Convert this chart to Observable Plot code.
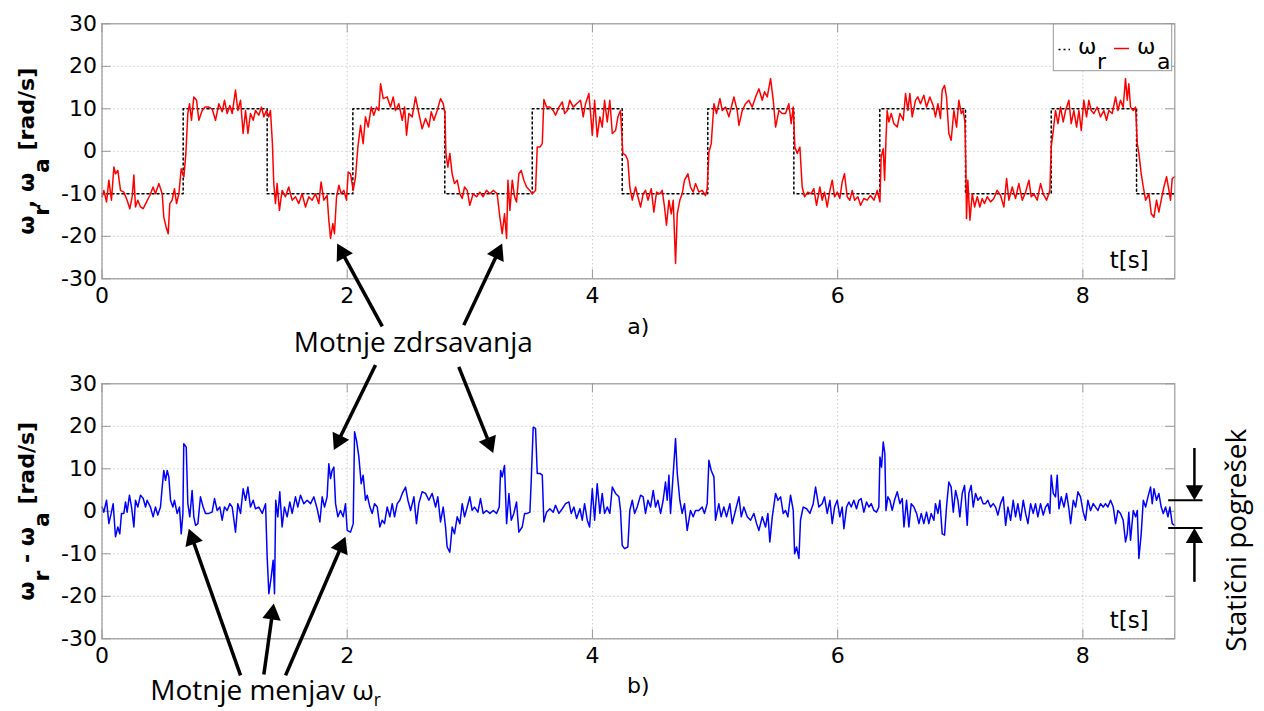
<!DOCTYPE html>
<html><head><meta charset="utf-8">
<script src="https://cdn.jsdelivr.net/npm/d3@7"></script>
<script src="https://cdn.jsdelivr.net/npm/@observablehq/plot@0.6"></script>
<style>
html,body{margin:0;padding:0;background:#fff;overflow:hidden;}
#chart{width:1264px;}
#chart svg{display:block;overflow:visible;}
</style></head><body><div id="chart"></div>
<script>
// ---------------- data ----------------
const xTicks = [0, 2, 4, 6, 8];
const yTicks = [-30, -20, -10, 0, 10, 20, 30];

// reference speed omega_r (step changes)
const stepT = [0, 0.662, 1.347, 2.046, 2.796, 3.509, 4.243, 4.941, 5.643, 6.344, 7.043, 7.742, 8.438, 8.75];
const omegaR = [-10, 10, -10, 10, -10, 10, -10, 10, -10, 10, -10, 10, -10, -10];

// actual speed omega_a  [t, value]
const omegaA1 = [[0.001,-10.7],[0.015,-9.2],[0.037,-11.9],[0.056,-6.8],[0.077,-11.5],[0.097,-3.7],[0.110,-5.3],[0.129,-4.5],[0.151,-9.2],[0.178,-9.6],[0.205,-11.5],[0.227,-13.5],[0.246,-10.7],[0.260,-5.6],[0.273,-13.1],[0.292,-11.5],[0.314,-13.1],[0.336,-13.5],[0.363,-11.9],[0.390,-10.4],[0.417,-8.4],[0.436,-10],[0.464,-7.6],[0.491,-10],[0.504,-15.5],[0.523,-17.8],[0.540,-19.4],[0.553,-12.3],[0.572,-11.5],[0.591,-8.8],[0.608,-12.3],[0.627,-10],[0.646,-4.1],[0.668,-6],[0.684,-0.5],[0.700,8.9],[0.714,11.2],[0.730,7.3],[0.749,12.8],[0.771,12],[0.790,7.3],[0.817,9.6],[0.839,10.4],[0.871,10.4],[0.898,10],[0.926,7.3],[0.953,11.2],[0.980,9.3],[0.999,12],[1.021,8.9],[1.043,10.8],[1.062,8.9],[1.089,14.4],[1.108,9.6],[1.130,12],[1.151,4.2],[1.171,9.6],[1.190,4.2],[1.211,8.9],[1.233,7.3],[1.252,9.6],[1.279,8.5],[1.301,10.4],[1.320,8.1],[1.341,9.6],[1.360,8.1],[1.374,9.6],[1.390,1.8],[1.401,-7.6],[1.415,-12.3],[1.428,-7.6],[1.447,-13.9],[1.469,-9.2],[1.496,-10.7],[1.523,-8.4],[1.551,-11.5],[1.578,-10.7],[1.605,-12.3],[1.632,-10],[1.660,-13.1],[1.687,-10.7],[1.714,-11.5],[1.741,-10],[1.768,-12.3],[1.787,-7.2],[1.809,-11.5],[1.836,-10.4],[1.850,-16.2],[1.864,-20.5],[1.883,-17],[1.896,-19.4],[1.913,-10.7],[1.932,-8],[1.951,-10],[1.973,-9.2],[1.994,-11.5],[2.008,-4.9],[2.027,-5.3],[2.049,-9.2],[2.068,-6],[2.087,1],[2.109,6.1],[2.130,1.8],[2.149,8.1],[2.171,5.7],[2.196,10.4],[2.217,8.5],[2.239,10.4],[2.258,9.6],[2.272,15.9],[2.294,12.4],[2.326,12.8],[2.353,10.4],[2.375,12.8],[2.394,9.6],[2.421,11.2],[2.449,7.3],[2.468,10.4],[2.484,3.8],[2.503,8.9],[2.530,8.1],[2.557,12.8],[2.584,8.9]];
const omegaA2 = [[2.611,5.3],[2.639,7.7],[2.666,5.7],[2.685,9.3],[2.707,7.3],[2.734,9.6],[2.761,12.4],[2.783,11.2],[2.797,8.9],[2.805,-0.5],[2.821,-3.7],[2.837,-0.5],[2.856,-5.3],[2.875,-7.6],[2.897,-6.8],[2.919,-10],[2.938,-11.1],[2.957,-8.4],[2.979,-9.2],[3.000,-12.7],[3.027,-10],[3.055,-10.7],[3.082,-9.6],[3.109,-10.7],[3.136,-9.2],[3.164,-10],[3.191,-9.2],[3.223,-10],[3.245,-15.5],[3.264,-19.4],[3.283,-14.7],[3.300,-20.5],[3.311,-6.8],[3.327,-13.9],[3.346,-6.8],[3.365,-10.7],[3.381,-11.9],[3.400,-5.3],[3.419,-4.5],[3.441,-6.8],[3.463,-8.4],[3.490,-9.2],[3.509,-10],[3.536,-9.2],[3.550,1],[3.572,1],[3.591,1.8],[3.604,12.2],[3.626,10.4],[3.653,10.4],[3.680,9.6],[3.699,8.5],[3.727,10.4],[3.754,11.6],[3.773,8.9],[3.795,9.6],[3.816,12],[3.843,10.4],[3.871,11.2],[3.903,12],[3.925,8.1],[3.944,11.2],[3.971,13.6],[3.985,8.9],[3.999,3.8],[4.018,12],[4.039,3.4],[4.061,8.1],[4.080,5.7],[4.099,12],[4.121,6.9],[4.142,12],[4.162,4.2],[4.189,4.9],[4.208,8.1],[4.229,9.6],[4.248,-0.5],[4.270,-0.9],[4.289,-2.1],[4.305,-8.4],[4.325,-11.5],[4.352,-8.4],[4.371,-10.7],[4.393,-13.1],[4.414,-10],[4.433,-9.2],[4.453,-11.5],[4.480,-8.8],[4.501,-14.3],[4.523,-9.6],[4.550,-10],[4.569,-9.2],[4.588,-13.1],[4.604,-17.4],[4.624,-11.5],[4.643,-14.7],[4.659,-11.5],[4.678,-26.4],[4.692,-14.7],[4.713,-11.5],[4.732,-10],[4.751,-6.8],[4.779,-5.3],[4.800,-8.4],[4.822,-9.6],[4.841,-7.6],[4.868,-9.6],[4.895,-9.2],[4.922,-10.4],[4.936,-8.8],[4.950,-0.2],[4.969,1.8],[4.991,11.2],[5.012,8.9],[5.040,12.4],[5.059,9.6],[5.086,10.4],[5.113,8.1],[5.140,11.2],[5.154,12.8],[5.181,9.6],[5.195,6.1],[5.222,9.6],[5.249,11.2],[5.276,12],[5.303,10.4],[5.331,12.8],[5.358,14.7],[5.385,12],[5.404,14],[5.426,12.8],[5.453,17.1],[5.475,12],[5.494,5.7],[5.521,9.6],[5.548,8.9],[5.575,8.9],[5.602,11.2],[5.621,6.5],[5.638,10.4],[5.651,1],[5.671,-0.5],[5.692,1],[5.711,-8.4],[5.730,-10.7],[5.757,-9.6],[5.784,-10],[5.806,-8.8],[5.828,-12.7],[5.855,-8.4]];
const omegaA3 = [[5.874,-11.5],[5.893,-9.6],[5.915,-13.1],[5.937,-9.2],[5.956,-6.8],[5.975,-10.7],[5.997,-9.6],[6.018,-11.1],[6.037,-7.2],[6.056,-5.3],[6.078,-10.7],[6.100,-11.5],[6.119,-9.2],[6.138,-11.5],[6.165,-10.7],[6.187,-12.7],[6.214,-11.1],[6.241,-11.5],[6.268,-10.4],[6.296,-11.5],[6.323,-9.2],[6.345,-11.9],[6.355,-1.3],[6.372,0.6],[6.383,-6.8],[6.394,2.6],[6.404,9.6],[6.418,6.9],[6.437,8.9],[6.459,6.5],[6.486,5.7],[6.508,8.9],[6.535,7.3],[6.554,13.6],[6.573,9.6],[6.589,13.6],[6.608,8.1],[6.635,12],[6.654,12.8],[6.676,11.2],[6.703,13.2],[6.725,10.4],[6.752,12.8],[6.779,10.8],[6.798,8.1],[6.818,11.2],[6.839,7.7],[6.853,14.4],[6.872,15.5],[6.888,12.8],[6.907,4.2],[6.926,2.6],[6.948,9.6],[6.970,5.7],[6.989,12],[7.008,8.9],[7.024,9.6],[7.038,6.9],[7.046,-3.7],[7.051,-15.8],[7.062,-6.8],[7.079,-16.2],[7.098,-10],[7.117,-13.1],[7.139,-10.7],[7.160,-13.1],[7.179,-11.1],[7.198,-12.3],[7.220,-10.7],[7.247,-11.9],[7.274,-11.1],[7.301,-9.2],[7.329,-10.4],[7.356,-13.1],[7.378,-6.4],[7.397,-11.5],[7.424,-8.4],[7.451,-11.1],[7.478,-7.6],[7.506,-11.5],[7.533,-9.6],[7.560,-6.8],[7.579,-10.7],[7.601,-10],[7.628,-11.5],[7.655,-7.6],[7.677,-10],[7.704,-11.5],[7.731,-9.2],[7.742,1],[7.759,4.9],[7.777,9.6],[7.797,6.5],[7.818,10.4],[7.840,6.9],[7.859,9.6],[7.886,12],[7.905,6.5],[7.927,9.6],[7.949,5.7],[7.968,9.6],[7.987,4.9],[8.008,12],[8.030,8.1],[8.049,12],[8.068,9.6],[8.090,8.9],[8.117,10.4],[8.144,8.1],[8.171,9.6],[8.193,7.3],[8.212,9.6],[8.239,8.9],[8.267,12.8],[8.286,9.6],[8.307,12],[8.329,10.4],[8.348,17.1],[8.362,12],[8.375,15.9],[8.389,10.4],[8.411,9.6],[8.430,10.4],[8.444,1.8],[8.457,-0.5],[8.476,-5.3],[8.493,-8.4],[8.512,-11.5],[8.539,-10],[8.558,-14.7],[8.580,-15.5],[8.601,-11.5],[8.620,-14.3],[8.639,-11.5],[8.661,-8.4],[8.683,-6],[8.702,-9.2],[8.715,-11.5],[8.729,-6.4],[8.748,-6]];

// speed error omega_r - omega_a  [t, value]
const error1 = [[0.001,1],[0.015,-0.2],[0.037,2.6],[0.056,-2.9],[0.075,-0.5],[0.091,1.8],[0.110,-6],[0.129,-3.7],[0.145,-5.3],[0.159,-0.5],[0.178,-0.5],[0.192,2.2],[0.205,-0.2],[0.224,3.8],[0.241,1],[0.260,-3.7],[0.273,2.6],[0.292,1],[0.314,3.8],[0.336,3],[0.355,1],[0.368,2.6],[0.395,1],[0.417,-1.3],[0.436,1],[0.455,-0.9],[0.477,1],[0.491,5.7],[0.504,9.6],[0.518,7.3],[0.532,9.6],[0.545,8.1],[0.559,2.6],[0.578,1],[0.591,2.6],[0.613,-0.5],[0.632,1],[0.646,-5.3],[0.660,-0.5],[0.667,15.9],[0.687,15.1],[0.700,1.8],[0.716,-1.3],[0.735,4.9],[0.749,-1.3],[0.763,-3.3],[0.782,-2.9],[0.803,3.4],[0.825,1],[0.844,-0.5],[0.871,-0.5],[0.898,-0.2],[0.918,3],[0.939,0.2],[0.961,1],[0.980,-2.1],[0.999,1],[1.021,0.2],[1.043,1.8],[1.062,1],[1.089,-4.9],[1.108,1.8],[1.130,-0.5],[1.151,5.3],[1.171,2.6],[1.190,5.7],[1.211,1],[1.233,2.6],[1.252,0.6],[1.279,1],[1.307,-0.5],[1.334,1.8],[1.347,-10.7],[1.361,-19.4],[1.380,-15.5],[1.396,-11.5],[1.407,-19.4],[1.417,2.6],[1.434,-1.3],[1.450,4.6],[1.469,-3.7],[1.488,1],[1.510,-1.3],[1.532,2.2],[1.551,-0.5],[1.578,3.4],[1.597,1],[1.619,3.8],[1.646,1.8],[1.673,2.6],[1.701,1.8],[1.728,3.4],[1.755,0.6],[1.777,-2.5],[1.796,3.4],[1.815,1],[1.836,3.4],[1.850,11.2],[1.864,7.7],[1.877,9.6],[1.891,10.4],[1.905,1.8],[1.924,-1.3],[1.945,0.2],[1.967,-1.3],[1.986,1.8],[2.000,-4.5],[2.027,-4.9],[2.049,-2.9],[2.060,18.7],[2.076,16.7],[2.095,12.8],[2.114,6.5],[2.130,8.5],[2.149,2.6],[2.163,3.8],[2.185,1],[2.204,-0.5],[2.223,1.8],[2.245,1],[2.266,-3.7],[2.285,-2.1],[2.304,-2.9],[2.326,1],[2.348,-1.3],[2.367,1.8],[2.386,-1.3],[2.408,1.8],[2.429,2.6],[2.449,4.2],[2.476,5.7],[2.495,2.6],[2.517,0.2],[2.544,3.4],[2.565,-2.9],[2.584,1.8]];
const error2 = [[2.611,4.6],[2.639,4.2],[2.666,2.6],[2.693,4.2],[2.721,1],[2.739,3.4],[2.761,-2.5],[2.783,1],[2.802,-3.7],[2.815,-8.4],[2.837,-9.6],[2.856,-3.7],[2.875,-5.3],[2.897,-1.3],[2.919,-2.9],[2.938,1.8],[2.957,-1.3],[2.979,1],[3.000,3.4],[3.019,0.2],[3.038,1],[3.066,-0.2],[3.087,3],[3.109,-0.5],[3.136,0.2],[3.164,-0.5],[3.191,0.2],[3.218,-0.5],[3.240,1],[3.251,9.6],[3.264,8.1],[3.283,10.8],[3.300,-2.9],[3.319,4.2],[3.338,-2.1],[3.359,-0.5],[3.381,2.2],[3.400,-4.9],[3.427,-3.7],[3.447,-0.5],[3.468,-0.5],[3.490,-0.2],[3.501,7.3],[3.517,19.8],[3.536,19.5],[3.550,8.9],[3.572,8.9],[3.591,8.5],[3.604,-2.5],[3.626,-0.2],[3.653,0.6],[3.680,-0.2],[3.699,1.4],[3.727,-0.5],[3.754,0.6],[3.781,1.8],[3.808,2.2],[3.827,-0.5],[3.849,1],[3.871,-1.7],[3.898,0.6],[3.917,-2.1],[3.936,1.8],[3.958,-2.1],[3.977,-3.7],[3.999,5.3],[4.018,-2.1],[4.039,6.5],[4.061,-0.5],[4.080,4.2],[4.099,-0.5],[4.121,1],[4.142,-0.5],[4.162,5.7],[4.189,4.2],[4.216,3.4],[4.229,0.2],[4.243,-8],[4.262,-8.8],[4.289,-8.4],[4.305,0.2],[4.325,2.6],[4.344,-0.5],[4.365,1],[4.393,3.8],[4.414,3.4],[4.433,-0.5],[4.453,2.6],[4.474,1],[4.496,4.9],[4.515,1],[4.534,2.6],[4.556,-0.5],[4.577,2.6],[4.596,6.9],[4.610,2.6],[4.624,8.5],[4.637,-0.5],[4.659,8.9],[4.678,17.1],[4.692,8.9],[4.713,2.6],[4.732,-0.5],[4.751,1.8],[4.773,-4.5],[4.800,0.2],[4.822,-1.3],[4.841,0.2],[4.868,0.2],[4.895,1],[4.914,-0.5],[4.936,1.8],[4.950,12],[4.969,9.6],[4.991,8.1],[5.004,-2.1],[5.031,1.8],[5.050,-1.3],[5.072,1],[5.094,-1.3],[5.121,1.8],[5.140,-2.9],[5.167,0.2],[5.195,3.4],[5.214,-1.3],[5.235,1],[5.263,-1.3],[5.290,-2.1],[5.317,-0.5],[5.339,-2.9],[5.358,-4.5],[5.385,-1.3],[5.412,-3.7],[5.431,-0.5],[5.447,-7.2],[5.467,-1.3],[5.494,4.2],[5.513,2.6],[5.535,3.4],[5.556,-0.5],[5.575,0.2],[5.594,-1.3],[5.616,3.8],[5.638,0.2],[5.649,-10],[5.665,-8.4],[5.684,-11.1],[5.697,-2.1],[5.719,1],[5.747,0.6],[5.774,-0.5],[5.801,1.8],[5.820,5.7],[5.847,1]];
const error3 = [[5.874,1.8],[5.893,3.4],[5.915,-0.5],[5.937,2.6],[5.956,-2.9],[5.975,1],[5.997,2.6],[6.018,-1.3],[6.037,1],[6.051,-4.1],[6.073,1],[6.092,2.2],[6.111,1],[6.132,2.6],[6.154,0.6],[6.173,2.6],[6.192,3],[6.214,-0.2],[6.236,2.2],[6.255,1],[6.274,1.8],[6.296,0.2],[6.317,-0.2],[6.336,1],[6.345,12.8],[6.358,10.4],[6.372,16.3],[6.385,13.6],[6.394,0.2],[6.410,3.4],[6.426,2.6],[6.445,0.2],[6.464,2.6],[6.486,4.6],[6.508,1.8],[6.527,3],[6.541,-3.7],[6.562,2.6],[6.581,-3.7],[6.600,1.8],[6.622,1],[6.644,-0.5],[6.663,-2.9],[6.682,-0.5],[6.703,-2.9],[6.725,-0.2],[6.744,-2.9],[6.763,-0.5],[6.785,-2.1],[6.798,1.8],[6.818,-0.5],[6.834,2.6],[6.853,-5.3],[6.872,-5.6],[6.888,1],[6.907,6.9],[6.926,5.7],[6.943,-0.2],[6.962,4.9],[6.981,2.6],[6.997,-1.3],[7.016,4.2],[7.035,6.1],[7.057,-3.3],[7.070,4.2],[7.089,6.1],[7.106,1],[7.125,4.2],[7.144,2.6],[7.166,3.4],[7.187,1.8],[7.206,1.8],[7.225,2.6],[7.247,1],[7.269,1.8],[7.288,1],[7.307,-0.9],[7.329,1.8],[7.351,3.4],[7.370,-3.3],[7.389,1],[7.411,-2.1],[7.432,2.6],[7.451,-1.3],[7.470,1.8],[7.492,-2.1],[7.514,2.6],[7.533,-0.5],[7.552,-2.9],[7.574,1.8],[7.595,-0.5],[7.614,1.8],[7.633,-1.3],[7.655,1.8],[7.677,-0.9],[7.696,1],[7.715,1.8],[7.731,-0.5],[7.742,8.5],[7.759,4.2],[7.777,3.4],[7.791,8.5],[7.805,0.6],[7.824,3.4],[7.846,1],[7.867,4.2],[7.886,0.6],[7.900,-2.9],[7.922,2.6],[7.941,1],[7.960,4.6],[7.981,3.4],[8.003,-0.2],[8.022,-2.1],[8.041,2.6],[8.063,0.2],[8.085,1.8],[8.104,1],[8.123,0.2],[8.144,1.8],[8.166,1],[8.185,1.8],[8.204,1],[8.226,2.6],[8.248,1],[8.267,-2.9],[8.286,0.2],[8.307,-0.5],[8.329,-2.1],[8.348,-7.2],[8.362,-5.3],[8.375,-0.2],[8.389,-6.8],[8.411,0.2],[8.430,-1.3],[8.444,0.2],[8.457,-11.1],[8.476,-5.3],[8.493,2.6],[8.512,1],[8.531,3.4],[8.552,5.7],[8.566,1.8],[8.580,5.3],[8.601,2.6],[8.620,4.2],[8.639,1],[8.656,-0.5],[8.675,1],[8.694,-1.3],[8.710,1],[8.729,-2.9],[8.748,-3.3]];

// annotations (data coordinates: t [s], value [rad/s])
const slipArrowsA = [{t1:2.286,v1:-41.2,t2:1.918,v2:-21.7},{t1:2.951,v1:-40.9,t2:3.264,v2:-21.7}];
const slipArrowsB = [{t1:2.231,v1:34.4,t2:1.891,v2:14.4},{t1:2.910,v1:34.0,t2:3.191,v2:13.7}];
const changeArrows = [{t1:1.130,v1:-38.6,t2:0.708,v2:-4.1},{t1:1.320,v1:-38.4,t2:1.401,v2:-21.7},{t1:1.497,v1:-38.6,t2:1.986,v2:-6.0}];
const staticBand = [2.6, -3.9];
const staticArrows = [{t1:8.91,v1:14.9,t2:8.91,v2:2.6},{t1:8.91,v1:-16.6,t2:8.91,v2:-3.9}];

// ---------------- layout ----------------
const W = 1264;
const FL = 101.5, FR = 1174.3, FT = 23.3, FH = 255;
const xDomain = [0, 8.75], yDomain = [-30, 30];
const kx = (FR - FL) / (xDomain[1] - xDomain[0]);
const ky = FH / (yDomain[1] - yDomain[0]);
const tPx = px => xDomain[0] + (px - FL) / kx;
const vPx = py => yDomain[1] - (py - FT) / ky;
const toPts = a => a.map(([t, v]) => ({t, v}));
const fmt = d => String(d);
const GRID = "#b3b3b3", FRAME = "#999";
const CAL = "'Open Sans', Lato, sans-serif";

function frameMarks() {
  const tl = 9, dt = tl / kx, dv = tl / ky;
  return [
    Plot.ruleY(yTicks, {stroke: GRID, strokeDasharray: "1,3", strokeWidth: 1}),
    Plot.ruleX(xTicks, {stroke: GRID, strokeDasharray: "1,3", strokeWidth: 1}),
    Plot.ruleY(yTicks, {x1: xDomain[0], x2: xDomain[0] + dt, stroke: FRAME}),
    Plot.ruleY(yTicks, {x1: xDomain[1] - dt, x2: xDomain[1], stroke: FRAME}),
    Plot.ruleX(xTicks, {y1: yDomain[0], y2: yDomain[0] + dv, stroke: FRAME}),
    Plot.ruleX(xTicks, {y1: yDomain[1] - dv, y2: yDomain[1], stroke: FRAME})
  ];
}

function arrowMarks(specs, width, head) {
  const shafts = [], heads = [];
  for (const a of specs) {
    const dxp = (a.t2 - a.t1) * kx, dyp = -(a.v2 - a.v1) * ky;
    const L = Math.hypot(dxp, dyp), ux = dxp / L, uy = dyp / L;
    const back = head * 0.75, c = head * 2 / 3;
    shafts.push({t1: a.t1, v1: a.v1, t2: a.t2 - back * ux / kx, v2: a.v2 + back * uy / ky});
    heads.push({t: a.t2 - c * ux / kx, v: a.v2 + c * uy / ky, angle: Math.atan2(ux, -uy) * 180 / Math.PI});
  }
  const yy = head / 3, size = 3 * Math.sqrt(3) * yy * yy, r = Math.sqrt(size / Math.PI);
  return [
    Plot.link(shafts, {x1: "t1", y1: "v1", x2: "t2", y2: "v2", stroke: "black", strokeWidth: width, strokeLinecap: "butt"}),
    Plot.dot(heads, {x: "t", y: "v", rotate: "angle", symbol: "triangle", r, fill: "black", stroke: "none"})
  ];
}

function axisTitle(text) {
  return Plot.text([text], {frameAnchor: "left", dx: 33 - FL, rotate: -90, textAnchor: "middle", lineAnchor: "bottom",
    fontFamily: "DejaVu Sans", fontWeight: "bold", fontSize: 22, fill: "black", text: d => d});
}

function common(height) {
  return {
    width: W, height,
    marginLeft: FL, marginRight: W - FR, marginTop: FT, marginBottom: height - FT - FH,
    style: {fontFamily: "DejaVu Sans", fontSize: "22px", color: "black", background: "transparent", overflow: "visible"},
    x: {domain: xDomain, ticks: xTicks, tickSize: 0, tickPadding: 9, tickFormat: fmt, label: null},
    y: {domain: yDomain, ticks: yTicks, tickSize: 0, tickPadding: 5, tickFormat: fmt, label: null}
  };
}

const steps = stepT.map((t, i) => ({t, v: omegaR[i]}));
const redParts = [omegaA1, omegaA2, omegaA3].flat();
const blueParts = [error1, error2, error3].flat();

const topPlot = Plot.plot({
  ...common(360),
  marks: [
    ...frameMarks(),
    Plot.line(steps, {x: "t", y: "v", curve: "step-after", stroke: "black", strokeWidth: 1.5, strokeDasharray: "2,3"}),
    Plot.line(toPts(redParts), {x: "t", y: "v", stroke: "#ff0000", strokeWidth: 1.5}),
    Plot.frame({stroke: FRAME, strokeWidth: 1.2}),
    // legend
    Plot.rect([0], {x1: tPx(1053.3), x2: tPx(1171.7), y1: vPx(24), y2: vPx(70.7), fill: "white", stroke: FRAME}),
    Plot.ruleY([vPx(49)], {x1: tPx(1058.5), x2: tPx(1070), stroke: "black", strokeWidth: 1.5, strokeDasharray: "2,3"}),
    Plot.ruleY([vPx(48)], {x1: tPx(1114), x2: tPx(1129), stroke: "#ff0000", strokeWidth: 1.5}),
    Plot.text(["ω", "ω"], {x: [tPx(1077.5), tPx(1136.5)], y: [vPx(53.5), vPx(53.5)], textAnchor: "start", lineAnchor: "bottom", fontSize: 22, fontFamily: "DejaVu Sans", fill: "black", text: d => d}),
    Plot.text(["r", "a"], {x: [tPx(1096.5), tPx(1156.5)], y: [vPx(68.3), vPx(68.3)], textAnchor: "start", lineAnchor: "bottom", fontSize: 22, fontFamily: "DejaVu Sans", fill: "black", text: d => d}),
    Plot.text(["t[s]"], {frameAnchor: "bottom-right", textAnchor: "end", lineAnchor: "bottom", dx: -26, dy: -11, fontSize: 23, fontFamily: "DejaVu Sans", fill: "black", text: d => d}),
    Plot.text(["a)"], {frameAnchor: "bottom", lineAnchor: "middle", dy: 48, fontSize: 22, fontFamily: "DejaVu Sans", fill: "black", text: d => d}),
    axisTitle("ω_r, ω_a [rad/s]"),
    ...arrowMarks(slipArrowsA, 3.5, 16),
    Plot.text(["Motnje zdrsavanja"], {x: 2.539, y: -45.2, textAnchor: "middle", lineAnchor: "middle", fontSize: 28, fontFamily: CAL, fill: "black", text: d => d})
  ]
});

const bottomPlot = Plot.plot({
  ...common(351),
  marks: [
    ...frameMarks(),
    Plot.line(toPts(blueParts), {x: "t", y: "v", stroke: "#0000ff", strokeWidth: 1.5}),
    Plot.frame({stroke: FRAME, strokeWidth: 1.2}),
    Plot.text(["t[s]"], {frameAnchor: "bottom-right", textAnchor: "end", lineAnchor: "bottom", dx: -26, dy: -11, fontSize: 23, fontFamily: "DejaVu Sans", fill: "black", text: d => d}),
    Plot.text(["b)"], {frameAnchor: "bottom", lineAnchor: "middle", dy: 47, fontSize: 22, fontFamily: "DejaVu Sans", fill: "black", text: d => d}),
    axisTitle("ω_r - ω_a [rad/s]"),
    ...arrowMarks(slipArrowsB, 3.5, 16),
    ...arrowMarks(changeArrows, 3.5, 16),
    Plot.ruleY(staticBand, {x1: 8.70, x2: 8.98, stroke: "black", strokeWidth: 2}),
    ...arrowMarks(staticArrows, 2.5, 15),
    Plot.text(["Motnje menjav ω~r"], {x: 1.334, y: -42.4, textAnchor: "middle", lineAnchor: "middle", fontSize: 28, fontFamily: CAL, fill: "black", text: d => d}),
    Plot.text(["Statični pogrešek"], {x: 9.26, y: -6.8, rotate: -90, textAnchor: "middle", lineAnchor: "middle", fontSize: 28, fontFamily: CAL, fill: "black", text: d => d})
  ]
});

const host = document.getElementById("chart");
host.append(topPlot, bottomPlot);

// subscripts: "_x" large (MATLAB style), "~x" small
function richText(svg) {
  const NS = "http://www.w3.org/2000/svg";
  svg.querySelectorAll("text").forEach(el => {
    const s = el.textContent;
    if (!/[_~]/.test(s)) return;
    const fs = parseFloat(getComputedStyle(el).fontSize) || 22;
    const parts = s.split(/([_~].)/).filter(p => p !== "");
    el.textContent = "";
    let shift = 0;
    for (const p of parts) {
      const ts = document.createElementNS(NS, "tspan");
      if ((p[0] === "_" || p[0] === "~") && p.length === 2) {
        const big = p[0] === "_";
        const target = big ? 0.7 * fs : 0.2 * fs;
        ts.textContent = p[1];
        if (!big) ts.setAttribute("font-size", (0.62 * fs) + "px");
        ts.setAttribute("dy", (target - shift) + "px");
        shift = target;
      } else {
        ts.textContent = p;
        if (shift) ts.setAttribute("dy", (-shift) + "px");
        shift = 0;
      }
      el.appendChild(ts);
    }
  });
}
richText(topPlot);
richText(bottomPlot);
</script>
</body></html>
